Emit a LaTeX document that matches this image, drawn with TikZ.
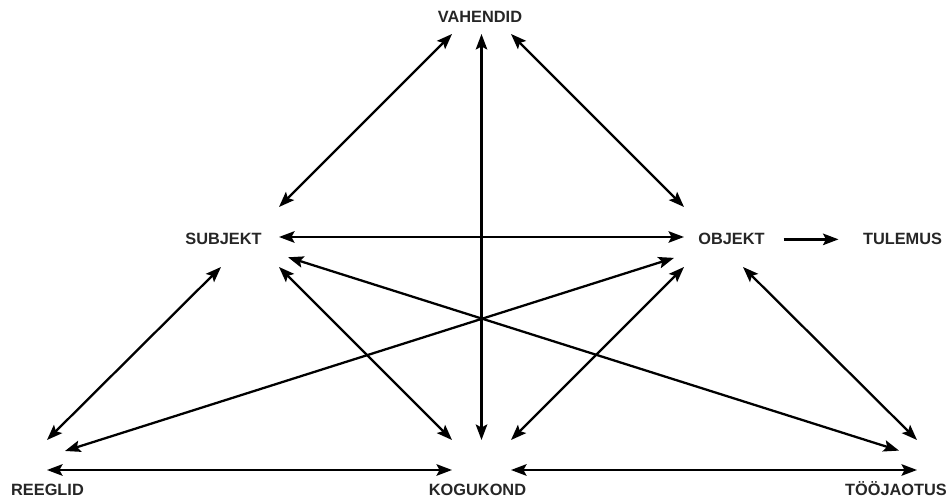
\documentclass[tikz,border=0pt]{standalone}
\usepackage{fontspec}
\setmainfont{Liberation Sans}
\usetikzlibrary{arrows.meta}

\begin{document}
\begin{tikzpicture}[
  >={Stealth[length=3.1mm,width=2.3mm,inset=0.6mm]},
  lbl/.style={font=\fontsize{9.3}{11}\selectfont\bfseries,text=black!85,inner sep=1.5pt,anchor=base},
  port/.style={rectangle,inner sep=0pt,outer sep=0pt,draw=none},
  link/.style={<->,line width=1.3pt},
  flow/.style={->,line width=1.3pt}]

  \useasboundingbox (0,0) rectangle (19,10);

  % labels
  \node[lbl] (vahendid)  at (9.6,9.55)  {VAHENDID};
  \node[lbl] (subjekt)   at (4.47,5.1)  {SUBJEKT};
  \node[lbl] (objekt)    at (14.63,5.1) {OBJEKT};
  \node[lbl] (tulemus)   at (18.05,5.1) {TULEMUS};
  \node[lbl] (reeglid)   at (0.95,0.08) {REEGLID};
  \node[lbl] (kogukond)  at (9.55,0.08) {KOGUKOND};
  \node[lbl] (toojaotus) at (17.92,0.08) {TÖÖJAOTUS};

  % where the arrows meet at each corner
  \node[port,minimum width=1.18cm,minimum height=0.2cm] (v) at (9.63,9.42) {};
  \node[port,minimum width=1.16cm,minimum height=1.2cm] (s) at (5.0,5.26)  {};
  \node[port,minimum width=1.18cm,minimum height=1.2cm] (o) at (14.27,5.26) {};
  \node[port,minimum width=0.36cm,minimum height=0.6cm] (r) at (1.12,0.9)  {};
  \node[port,minimum width=1.18cm,minimum height=0.6cm] (k) at (9.63,0.9)  {};
  \node[port,minimum width=0.36cm,minimum height=0.6cm] (t) at (18.16,0.9) {};

  % triangle of the activity system
  \draw[link] (s.north east) -- (v.south west);
  \draw[link] (v.south east) -- (o.north west);
  \draw[link] (v.south) -- (k.north);
  \draw[link] (s.east) -- (o.west);
  \draw[link] (s.south west) -- (r.north west);
  \draw[link] (s.south east) -- (k.north west);
  \draw[link] (o.south west) -- (k.north east);
  \draw[link] (o.south east) -- (t.north east);
  \draw[link,shorten <=0.19cm] (s.-31.8) -- (t.154);
  \draw[link,shorten <=0.21cm] (o.211.4) -- (r.24);
  \draw[link] (r.south west) -- (k.south west);
  \draw[link] (k.south east) -- (t.south east);
  \draw[flow,shorten <=0.32cm,shorten >=0.43cm] (objekt.east) -- (tulemus.west);
\end{tikzpicture}
\end{document}
